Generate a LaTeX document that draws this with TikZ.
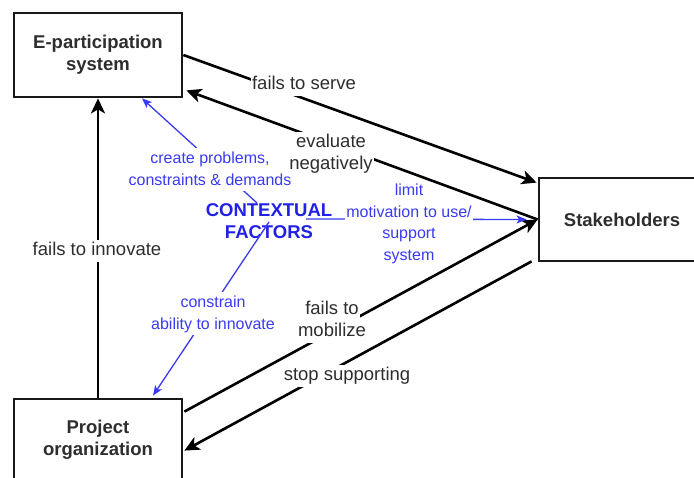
\documentclass[tikz,border=0pt]{standalone}
\usepackage{fontspec}
\setmainfont{Liberation Sans}
\usetikzlibrary{arrows.meta,calc}
\definecolor{txtgray}{HTML}{2E2E2E}
\definecolor{ctxblue}{HTML}{2020E6}
\definecolor{lblblue}{HTML}{3A3AF2}
% white backing behind a single row of label text, one full line tall
\newcommand{\rowbg}[1]{{\setlength{\fboxsep}{0pt}\colorbox{white}{\strut\hspace{1.5pt}#1\hspace{1.5pt}}}}
\tikzset{
  box/.style={draw=black!90, line width=2.8pt, minimum width=168pt, minimum height=84pt,
    align=center, font=\fontsize{18.5}{22}\selectfont\bfseries, text=txtgray, inner sep=0pt},
  flow/.style={draw=black, line width=2.6pt, -{Stealth[length=15pt,width=14pt,inset=4pt]}},
  ctx/.style={draw=lblblue, line width=1.3pt, -{Stealth[length=10pt,width=8pt,inset=2.5pt]}},
  lbl/.style={align=center, text=txtgray, inner sep=0pt,
    font=\fontsize{18.5}{22}\selectfont},
  blbl/.style={align=center, text=lblblue, inner sep=0pt,
    font=\fontsize{16}{21.5}\selectfont},
}
\begin{document}
\begin{tikzpicture}[x=1pt, y=-1pt]
\useasboundingbox (0,0) rectangle (694,478);
\clip (0,0) rectangle (694,478);
\fill[white] (0,0) rectangle (694,478);

% the three actors
\node[box] (ep) at (98,55) {E-participation\\system};
\node[box, minimum width=166pt, minimum height=83pt] (st) at (622,219.5) {Stakeholders};
\node[box, minimum height=82pt] (po) at (98,440) {Project\\organization};

% contextual factors and the points its influence lines leave from
\node[align=center, text=ctxblue, inner sep=0pt,
      font=\fontsize{18.5}{22}\selectfont\bfseries] (cf) at (269,221) {CONTEXTUAL\\FACTORS};
\coordinate (cfN) at (257,203);
\coordinate (cfC) at (269,222);
\coordinate (cfE) at (306,219);

% black interactions between the actors
\draw[flow] (po.north) -- (ep.south);
\draw[flow] (ep.east) -- ($(st.north west)+(-1,6)$);
\draw[flow] (st.west) -- ($(ep.south east)+(3,-8)$);
\draw[flow] ($(po.north east)+(1,14)$) -- (st.west);
\draw[flow] ($(st.south west)+(-6,-1)$) -- ($(po.north east)+(1,53)$);

% blue influence of the contextual factors
\draw[ctx] (cfN) -- ($(ep.south)+(44,0)$);
\draw[ctx] (cfC) -- ($(po.north)+(55,-2)$);
\draw[ctx] (cfE) -- ($(st.west)+(-11,0)$);

% labels on the black interactions
\node[lbl] (l1) at (97,251) {\rowbg{fails to innovate}};
\node[lbl] (l2) at (304,85) {\rowbg{fails to serve}};
\node[lbl] (l3) at (331,154) {\rowbg{evaluate}\\\rowbg{negatively}};
\node[lbl] (l4) at (332,321) {\rowbg{fails to}\\\rowbg{mobilize}};
\node[lbl] (l5) at (347,376) {\rowbg{stop supporting}};

% labels on the blue influences
\node[blbl] (b1) at (210,170) {\rowbg{create problems,}\\\rowbg{constraints \& demands}};
\node[blbl] (b2) at (213,314) {\rowbg{constrain}\\\rowbg{ability to innovate}};
\node[blbl] (b3) at (409,224) {limit\\\rowbg{motivation to use/}\\support\\system};
\end{tikzpicture}
\end{document}
